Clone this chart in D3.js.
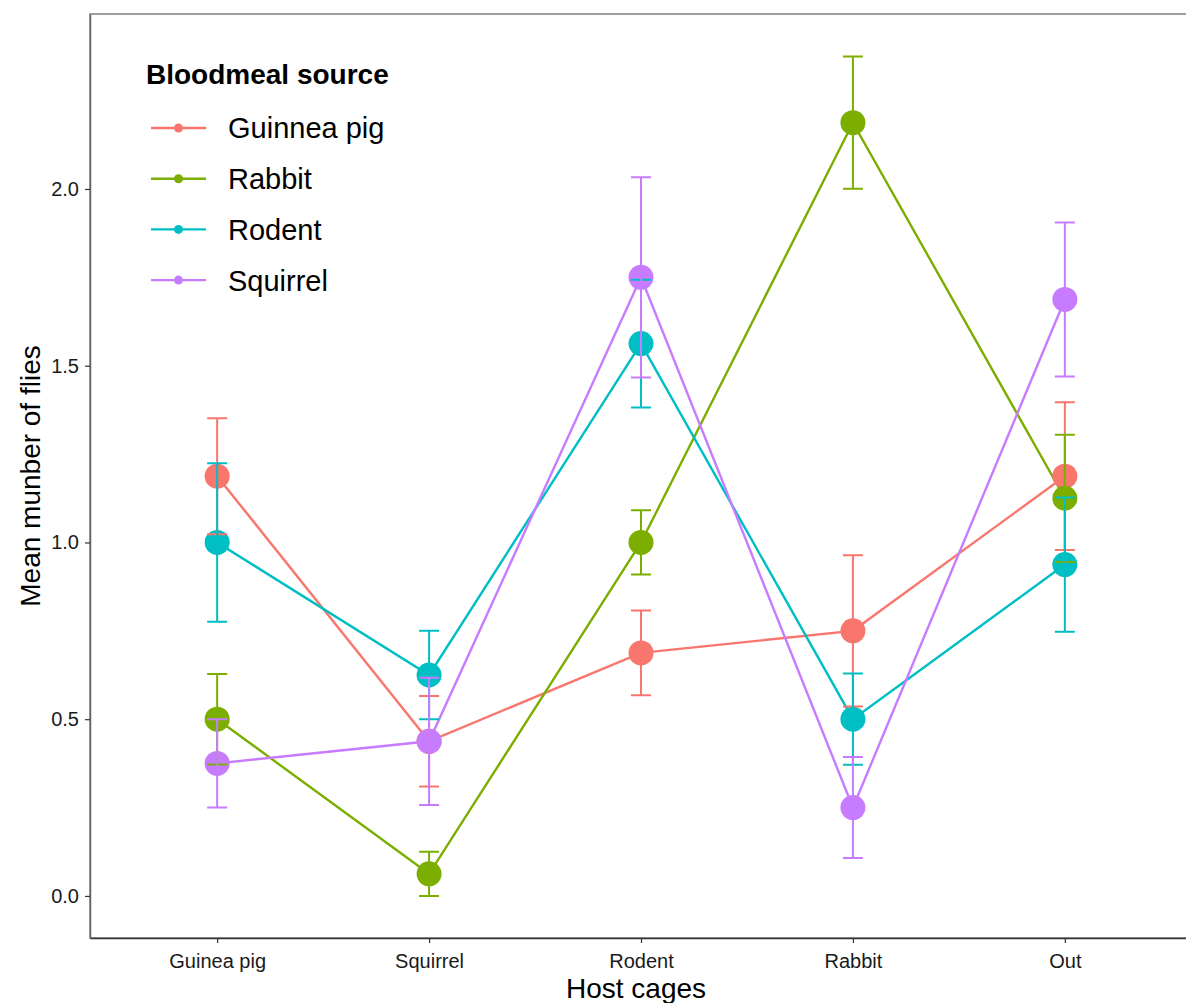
<!DOCTYPE html>
<html lang="en">
<head>
    <meta charset="UTF-8">
    <title>Mean number of flies per host cage</title>
    <script src="https://d3js.org/d3.v7.min.js"></script>
    <style>
        body {
            margin: 0;
            background-color: #fff;
            font-family: "Liberation Sans", Arial, sans-serif;
        }
        .tick-label {
            font-size: 20px;
            fill: #1a1a1a;
        }
        .axis-title {
            font-size: 28px;
            fill: #000;
        }
        .legend-title {
            font-size: 28px;
            font-weight: bold;
        }
        .legend-label {
            font-size: 29px;
        }
    </style>
</head>
<body>
    <svg id="chart" width="1186" height="1003"></svg>

    <script>
        // host cages on the x axis
        const cages = ["Guinea pig", "Squirrel", "Rodent", "Rabbit", "Out"];
        // bloodmeal sources (legend, same spelling as the original)
        const sources = ["Guinnea pig", "Rabbit", "Rodent", "Squirrel"];
        const colors = ["#F8766D", "#7CAE00", "#00BFC4", "#C77CFF"];

        // mean number of flies, one value per cage
        const guineaPigMean = [1.1875, 0.4375, 0.6875, 0.75, 1.1875];
        const rabbitMean    = [0.5, 0.0625, 1.0, 2.1875, 1.125];
        const rodentMean    = [1.0, 0.625, 1.5625, 0.5, 0.9375];
        const squirrelMean  = [0.375, 0.4375, 1.75, 0.25, 1.6875];

        // standard errors
        const guineaPigSE = [0.164, 0.128, 0.12, 0.214, 0.209];
        const rabbitSE    = [0.128, 0.0625, 0.091, 0.187, 0.18];
        const rodentSE    = [0.224, 0.125, 0.181, 0.129, 0.19];
        const squirrelSE  = [0.125, 0.18, 0.283, 0.143, 0.218];

        const yTicks = [0, 0.5, 1.0, 1.5, 2.0];

        const means = [guineaPigMean, rabbitMean, rodentMean, squirrelMean];
        const ses = [guineaPigSE, rabbitSE, rodentSE, squirrelSE];

        const series = sources.map((s, i) => ({
            name: s,
            color: colors[i],
            values: cages.map((c, j) => ({ cage: c, mean: means[i][j], se: ses[i][j] }))
        }));

        const panel = { left: 90, right: 1192, top: 14, bottom: 938 };

        const svg = d3.select("#chart");

        const x = d3.scalePoint()
            .domain(cages)
            .range([panel.left, panel.right])
            .padding(0.6);

        const yMin = -0.119, yMax = 2.495;
        const y = d3.scaleLinear()
            .domain([yMin, yMax])
            .range([panel.bottom, panel.top]);

        // panel border
        svg.append("rect")
            .attr("x", panel.left)
            .attr("y", panel.top)
            .attr("width", panel.right - panel.left)
            .attr("height", panel.bottom - panel.top)
            .attr("fill", "none")
            .attr("stroke", "#808080")
            .attr("stroke-width", 1.5);

        // axes
        const xAxis = svg.append("g")
            .attr("transform", `translate(0,${panel.bottom})`)
            .call(d3.axisBottom(x).tickSizeInner(5).tickSizeOuter(0).tickPadding(11));
        const yAxis = svg.append("g")
            .attr("transform", `translate(${panel.left},0)`)
            .call(d3.axisLeft(y).tickValues(yTicks).tickFormat(d3.format(".1f"))
                .tickSizeInner(5).tickSizeOuter(0).tickPadding(6));

        [xAxis, yAxis].forEach(g => {
            g.attr("font-family", null).attr("font-size", null);
            g.select(".domain").attr("stroke", "#333").attr("stroke-width", 1.5);
            g.selectAll(".tick line").attr("stroke", "#333").attr("stroke-width", 1.2);
            g.selectAll(".tick text")
                .attr("class", "tick-label")
                .attr("fill", null);
        });
        yAxis.select(".domain").attr("stroke", "#666");

        // axis titles
        svg.append("text")
            .attr("class", "axis-title")
            .attr("x", (panel.left + panel.right) / 2 - 5)
            .attr("y", 998)
            .attr("text-anchor", "middle")
            .text("Host cages");

        svg.append("text")
            .attr("class", "axis-title")
            .attr("transform", `translate(40,${(panel.top + panel.bottom) / 2}) rotate(-90)`)
            .attr("text-anchor", "middle")
            .text("Mean munber of flies");

        const line = d3.line()
            .x(d => x(d.cage))
            .y(d => y(d.mean));

        // lines
        svg.append("g").selectAll("path")
            .data(series)
            .join("path")
            .attr("d", d => line(d.values))
            .attr("fill", "none")
            .attr("stroke", d => d.color)
            .attr("stroke-width", 2.4);

        // points
        svg.append("g").selectAll("g")
            .data(series)
            .join("g")
            .attr("fill", d => d.color)
            .selectAll("circle")
            .data(d => d.values)
            .join("circle")
            .attr("cx", d => x(d.cage))
            .attr("cy", d => y(d.mean))
            .attr("r", 12.5);

        // error bars
        const capHalf = 10;
        const bars = svg.append("g").selectAll("g")
            .data(series)
            .join("g")
            .attr("stroke", d => d.color)
            .attr("stroke-width", 2);

        bars.selectAll("path")
            .data(d => d.values)
            .join("path")
            .attr("fill", "none")
            .attr("d", d => {
                const cx = x(d.cage);
                const top = y(d.mean + d.se);
                const bot = y(Math.max(0, d.mean - d.se));
                return `M${cx - capHalf},${top}H${cx + capHalf}M${cx},${top}V${bot}M${cx - capHalf},${bot}H${cx + capHalf}`;
            });

        // legend
        const legend = svg.append("g");
        legend.append("text")
            .attr("class", "legend-title")
            .attr("x", 146)
            .attr("y", 84)
            .text("Bloodmeal source");

        const items = legend.selectAll(".item")
            .data(series)
            .join("g")
            .attr("class", "item")
            .attr("transform", (d, i) => `translate(0,${128 + i * 50.7})`);

        items.append("line")
            .attr("x1", 151)
            .attr("x2", 206)
            .attr("stroke", d => d.color)
            .attr("stroke-width", 2.4);

        items.append("circle")
            .attr("cx", 178.5)
            .attr("r", 4.5)
            .attr("fill", d => d.color);

        items.append("text")
            .attr("class", "legend-label")
            .attr("x", 228)
            .attr("dy", "0.36em")
            .text(d => d.name);
    </script>
</body>
</html>
